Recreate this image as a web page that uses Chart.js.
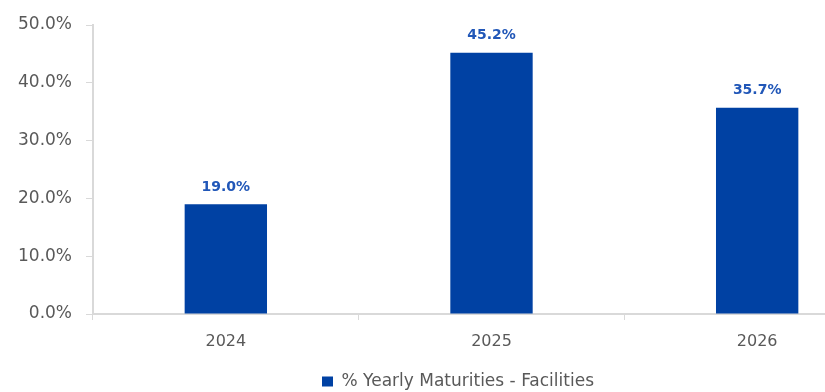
<!DOCTYPE html>
<html>
<head>
<meta charset="utf-8">
<script src="https://cdn.jsdelivr.net/npm/chart.js@4/dist/chart.umd.min.js"></script>
<style>
  html, body { margin: 0; padding: 0; background: #fff; overflow: hidden; }
  #wrap { width: 916px; height: 392px; }
</style>
</head>
<body>
<div id="wrap"><canvas id="maturityChart" width="916" height="392"></canvas></div>
<script>
// Yearly maturities (bar)
const years = ["2024", "2025", "2026"];
const maturities = [19.0, 45.2, 35.7];
const seriesName = "% Yearly Maturities - Facilities";

const barBlue = "#0041A3";
const labelBlue = "#2157B8";
const axisGrey = "#D9D9D9";
const textGrey = "#595959";

// value labels above bars
const valueLabels = {
  id: "valueLabels",
  afterDatasetsDraw(chart) {
    const ctx = chart.ctx;
    const meta = chart.getDatasetMeta(0);
    ctx.save();
    ctx.font = "bold 14px 'DejaVu Sans'";
    ctx.fillStyle = labelBlue;
    ctx.textAlign = "center";
    ctx.textBaseline = "middle";
    meta.data.forEach((bar, i) => {
      ctx.fillText(maturities[i].toFixed(1) + "%", bar.x, bar.y - 17);
    });
    ctx.restore();
  }
};

// legend sits a bit right of the canvas centre in the original
const legendShift = {
  id: "legendShift",
  afterLayout(chart) {
    chart.legend.left += 13;
    chart.legend.right += 13;
  }
};

const el = document.getElementById("maturityChart");
new Chart(el, {
  type: "bar",
  data: {
    labels: years,
    datasets: [{
      label: seriesName,
      data: maturities,
      backgroundColor: barBlue,
      borderWidth: 0,
      barPercentage: 1,
      categoryPercentage: 0.31
    }]
  },
  options: {
    responsive: false,
    animation: false,
    layout: { padding: { top: 25, right: 26, left: 0, bottom: -8 } },
    plugins: {
      legend: {
        position: "bottom",
        labels: {
          boxWidth: 11,
          boxHeight: 10,
          padding: 2,
          color: textGrey,
          font: { family: "'DejaVu Sans'", size: 17 }
        }
      },
      tooltip: { enabled: false }
    },
    scales: {
      x: {
        grid: { drawOnChartArea: false, color: axisGrey, tickLength: 6, offset: true },
        border: { color: axisGrey, width: 2 },
        ticks: { color: textGrey, padding: 12, font: { family: "'DejaVu Sans'", size: 16 } },
        afterFit: scale => { scale.height = 57; }
      },
      y: {
        min: 0,
        max: 50,
        grid: { drawOnChartArea: false, color: axisGrey, tickLength: 7 },
        border: { color: axisGrey, width: 2 },
        ticks: {
          stepSize: 10,
          padding: 14,
          color: textGrey,
          font: { family: "'DejaVu Sans'", size: 17 },
          callback: v => v.toFixed(1) + "%"
        },
        afterFit: scale => { scale.width = 93; }
      }
    }
  },
  plugins: [valueLabels, legendShift]
});
</script>
</body>
</html>
